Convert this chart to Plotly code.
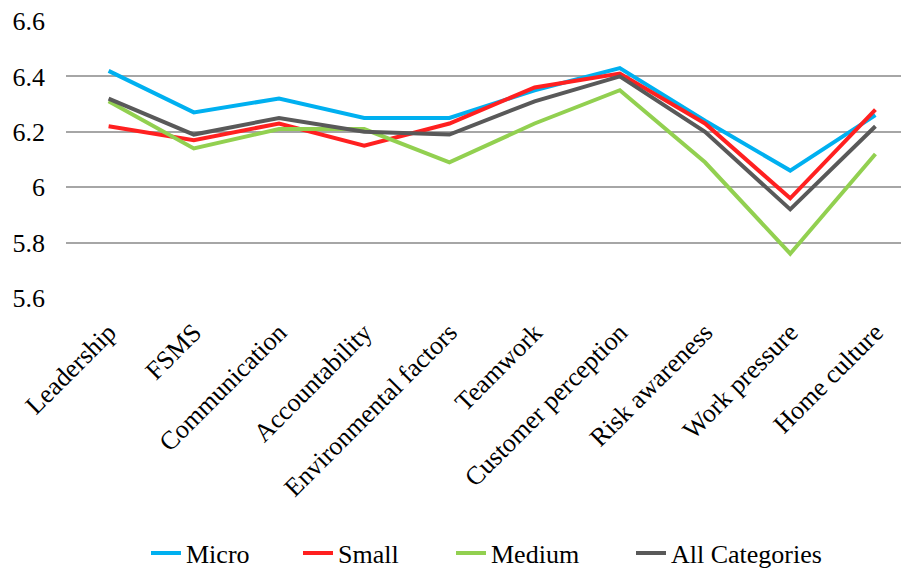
import plotly.graph_objects as go

categories = ["Leadership", "FSMS", "Communication", "Accountability", "Environmental factors",
              "Teamwork", "Customer perception", "Risk awareness", "Work pressure", "Home culture"]
micro = [6.42, 6.27, 6.32, 6.25, 6.25, 6.35, 6.43, 6.24, 6.06, 6.26]
small = [6.22, 6.17, 6.23, 6.15, 6.23, 6.36, 6.41, 6.23, 5.96, 6.28]
medium = [6.31, 6.14, 6.21, 6.21, 6.09, 6.23, 6.35, 6.09, 5.76, 6.12]
all_categories = [6.32, 6.19, 6.25, 6.20, 6.19, 6.31, 6.40, 6.20, 5.92, 6.22]
y_ticks = [5.6, 5.8, 6.0, 6.2, 6.4, 6.6]
y_tick_labels = ["5.6", "5.8", "6", "6.2", "6.4", "6.6"]

series = [("Micro", micro, "#00B0F0"), ("Small", small, "#FF2020"),
          ("Medium", medium, "#92D050"), ("All Categories", all_categories, "#595959")]
legend_ids = ["legend", "legend2", "legend3", "legend4"]
legend_px = [151, 303, 456, 636]

fig = go.Figure()
for (name, vals, color), lid in zip(series, legend_ids):
    fig.add_trace(go.Scatter(x=list(range(len(categories))), y=vals, name=name, mode="lines",
                             line=dict(color=color, width=4), legend=lid))

font = "Liberation Serif, Times New Roman, serif"
tf = dict(family=font, size=26, color="#000000")
W, H = 901, 571
leg_layout = {}
for lid, px in zip(legend_ids, legend_px):
    leg_layout[lid] = dict(orientation="h", xref="container", x=(px - 5) / W, xanchor="left",
                           yref="container", y=(571 - 553) / H, yanchor="middle",
                           font=tf, bgcolor="rgba(0,0,0,0)", borderwidth=0)

fig.update_layout(
    width=W, height=H,
    margin=dict(l=66, r=0, t=21, b=273),
    plot_bgcolor="white", paper_bgcolor="white",
    font=tf,
    showlegend=True,
    xaxis=dict(tickmode="array", tickvals=list(range(len(categories))), ticktext=categories,
               range=[-0.5, 9.3], tickangle=-45, showgrid=False, zeroline=False,
               showline=False, ticks="", ticklabelstandoff=13, tickfont=tf),
    yaxis=dict(range=[5.6, 6.6], tickmode="array", tickvals=y_ticks, ticktext=y_tick_labels,
               showgrid=True, gridcolor="#A6A6A6", gridwidth=1.5, zeroline=False,
               showline=False, ticks="", ticklabelstandoff=20, tickfont=tf),
    **leg_layout,
)
fig.write_html("out.html")
